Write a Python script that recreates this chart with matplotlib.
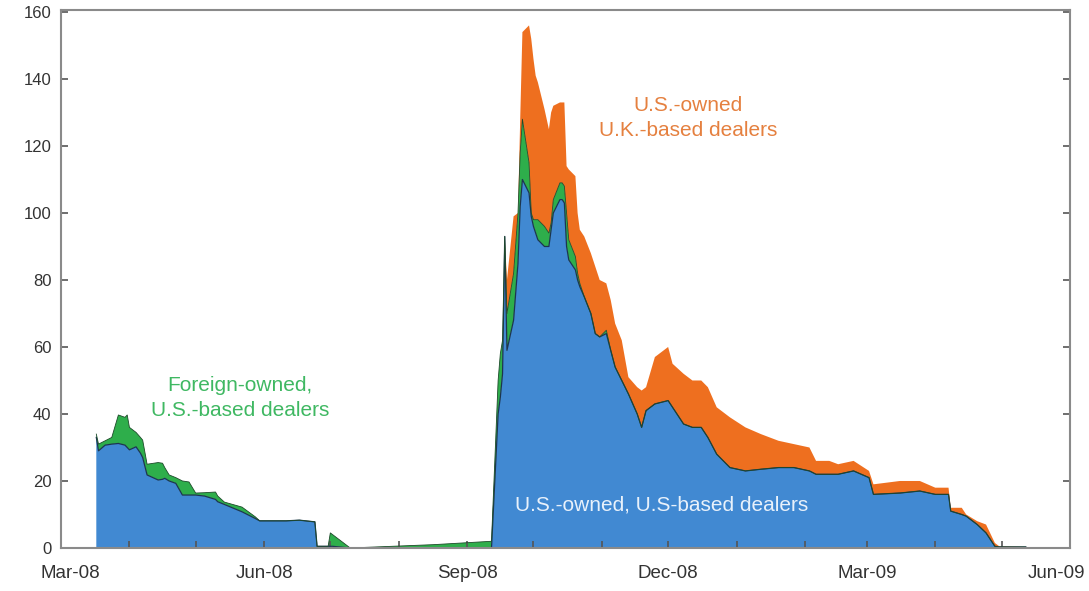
import matplotlib
matplotlib.use('Agg')
import matplotlib.pyplot as plt
import matplotlib.dates as mdates
import matplotlib.transforms as mtransforms
import numpy as np
import pandas as pd

plt.rcParams['font.family'] = ['Liberation Sans', 'DejaVu Sans']

# dates of readings (billions of dollars)
dates = ['2008-03-17', '2008-03-18', '2008-03-21', '2008-03-24', '2008-03-27', '2008-03-30',
         '2008-03-31', '2008-04-01', '2008-04-04', '2008-04-06', '2008-04-07', '2008-04-09',
         '2008-04-14', '2008-04-16', '2008-04-17', '2008-04-19', '2008-04-22', '2008-04-25',
         '2008-04-28', '2008-05-01', '2008-05-05', '2008-05-10', '2008-05-11', '2008-05-14',
         '2008-05-22', '2008-05-28', '2008-05-30', '2008-06-11', '2008-06-17', '2008-06-24',
         '2008-06-25', '2008-06-30', '2008-07-01', '2008-07-02', '2008-07-10', '2008-08-17',
         '2008-09-12', '2008-09-15', '2008-09-16', '2008-09-17', '2008-09-18', '2008-09-19',
         '2008-09-22', '2008-09-24', '2008-09-25', '2008-09-26', '2008-09-29', '2008-09-30',
         '2008-10-01', '2008-10-02', '2008-10-03', '2008-10-06', '2008-10-08', '2008-10-09',
         '2008-10-10', '2008-10-13', '2008-10-14', '2008-10-15', '2008-10-16', '2008-10-17',
         '2008-10-20', '2008-10-21', '2008-10-22', '2008-10-24', '2008-10-27', '2008-10-29',
         '2008-10-31', '2008-11-03', '2008-11-05', '2008-11-07', '2008-11-10', '2008-11-13',
         '2008-11-17', '2008-11-19', '2008-11-21', '2008-11-25', '2008-12-01', '2008-12-03',
         '2008-12-08', '2008-12-12', '2008-12-16', '2008-12-19', '2008-12-23', '2008-12-29',
         '2009-01-05', '2009-01-12', '2009-01-20', '2009-01-27', '2009-02-03', '2009-02-06',
         '2009-02-12', '2009-02-16', '2009-02-23', '2009-03-02', '2009-03-04', '2009-03-16',
         '2009-03-25', '2009-04-01', '2009-04-07', '2009-04-08', '2009-04-13', '2009-04-15',
         '2009-04-20', '2009-04-24', '2009-04-28', '2009-04-30', '2009-05-12']

us_owned_us = [33, 29, 30.7, 31, 31.2, 30.7,
               30, 29.3, 30.2, 28.3, 27, 21.8,
               20.3, 20.5, 20.8, 20, 19.3, 15.8,
               15.8, 15.8, 15.5, 14.5, 13.8, 13,
               10.8, 8.8, 8.1, 8.1, 8.3, 7.8,
               0.5, 0.5, 0.5, 0.5, 0, 0,
               0, 40, 45, 52, 93, 59,
               68, 85, 102, 110, 106, 99,
               96, 94, 92, 90, 90, 95,
               100, 104, 104, 103, 90, 86,
               83, 80, 78, 75, 70, 64,
               63, 64, 59, 54, 50, 46,
               40, 36, 41, 43, 44, 42,
               37, 36, 36, 33, 28, 24,
               23, 23.5, 24, 24, 23, 22,
               22, 22, 23, 21, 16, 16.4,
               17, 16, 16, 11, 10, 9.5,
               7, 4.5, 0.5, 0.3, 0.3]

# blue + green
us_based_total = [34, 31, 32, 33, 39.7, 39,
                  39.7, 36, 34.5, 33, 32.2, 25,
                  25.5, 25.3, 24, 21.8, 21, 20,
                  19.7, 16.4, 16.5, 16.7, 15.5, 13.7,
                  12.2, 9.3, 8.1, 8.1, 8.3, 7.8,
                  0.5, 0.5, 4.5, 4, 0, 1,
                  2, 50, 58, 62, 93, 70,
                  82, 100, 118, 128, 115, 100,
                  98, 98, 98, 96, 94, 97,
                  104, 109, 109, 108, 100, 92,
                  87, 82, 79, 75, 70, 64,
                  63, 65, 59, 54, 50, 46,
                  40, 36, 41, 43, 44, 42,
                  37, 36, 36, 33, 28, 24,
                  23, 23.5, 24, 24, 23, 22,
                  22, 22, 23, 21, 16, 16.4,
                  17, 16, 16, 11, 10, 9.5,
                  7, 4.5, 0.5, 0.3, 0.3]

# all dealers (top of orange)
all_total = [34, 31, 32, 33, 39.7, 39,
             39.7, 36, 34.5, 33, 32.2, 25,
             25.5, 25.3, 24, 21.8, 21, 20,
             19.7, 16.4, 16.5, 16.7, 15.5, 13.7,
             12.2, 9.3, 8.1, 8.1, 8.3, 7.8,
             0.5, 0.5, 4.5, 4, 0, 1,
             2, 50, 58, 62, 93, 80,
             99, 100, 128, 154, 156, 152,
             146, 141, 139, 131, 125, 130,
             132, 133, 133, 133, 114, 113,
             111, 100, 95, 93, 88, 84,
             80, 79, 74, 67, 62, 51,
             48, 47, 48, 57, 60, 55,
             52, 50, 50, 48, 42, 39,
             36, 34, 32, 31, 30, 26,
             26, 25, 26, 23, 19, 20,
             20, 18, 18, 12, 12, 10,
             8, 7, 1.5, 0.5, 0.3]

x = pd.to_datetime(dates)
blue = np.array(us_owned_us)
green = np.array(us_based_total) - blue
orange = np.array(all_total) - np.array(us_based_total)

c_blue = '#4189d2'
c_green = '#2eae4b'
c_orange = '#ee6f1f'
c_edge = '#1c3550'

fig = plt.figure(figsize=(10.89, 5.91), dpi=100)
ax = fig.add_axes([0.056, 0.0728, 0.9265, 0.9103])

ax.stackplot(x, blue, green, orange, colors=[c_blue, c_green, c_orange], linewidth=0)
ax.plot(x, blue, color=c_edge, lw=0.9)
ax.plot(x, blue + green, color='#1d4a2a', lw=0.6)

ax.set_xlim(pd.Timestamp('2008-03-01'), pd.Timestamp('2009-06-01'))
ax.set_ylim(0, 160.6)
ax.set_yticks(np.arange(0, 161, 20))

ax.xaxis.set_major_locator(mdates.MonthLocator(bymonth=[3, 6, 9, 12]))
ax.xaxis.set_major_formatter(mdates.DateFormatter('%b-%y'))
ax.xaxis.set_minor_locator(mdates.MonthLocator())

for s in ax.spines.values():
    s.set_color('#8a8a8a')
    s.set_linewidth(1.5)

ax.tick_params(axis='both', which='both', direction='in', color='#555555', labelcolor='#333333')
ax.tick_params(axis='y', which='major', length=5, width=1.2, right=True, pad=7, labelsize=12)
ax.tick_params(axis='x', which='major', length=5, width=1.2, pad=12, labelsize=13.5)
ax.tick_params(axis='x', which='minor', length=5, width=1.2)

# nudge the end labels inward as in the original
xlabels = ax.get_xticklabels()
xlabels[0].set_transform(xlabels[0].get_transform() +
                         mtransforms.ScaledTranslation(9 / 100, 0, fig.dpi_scale_trans))
xlabels[-1].set_transform(xlabels[-1].get_transform() +
                          mtransforms.ScaledTranslation(-13 / 100, 0, fig.dpi_scale_trans))

ax.text(pd.Timestamp('2008-05-21'), 44.8, 'Foreign-owned,\nU.S.-based dealers', color='#3fb862',
        fontsize=15, ha='center', va='center', linespacing=1.35)
ax.text(pd.Timestamp('2008-12-10'), 128.3, 'U.S.-owned\nU.K.-based dealers', color='#e5803f',
        fontsize=15, ha='center', va='center', linespacing=1.4)
ax.text(pd.Timestamp('2008-11-28'), 12.8, 'U.S.-owned, U.S-based dealers', color='#e8f1fb',
        fontsize=15, ha='center', va='center')

fig.savefig('out.png', dpi=100)
